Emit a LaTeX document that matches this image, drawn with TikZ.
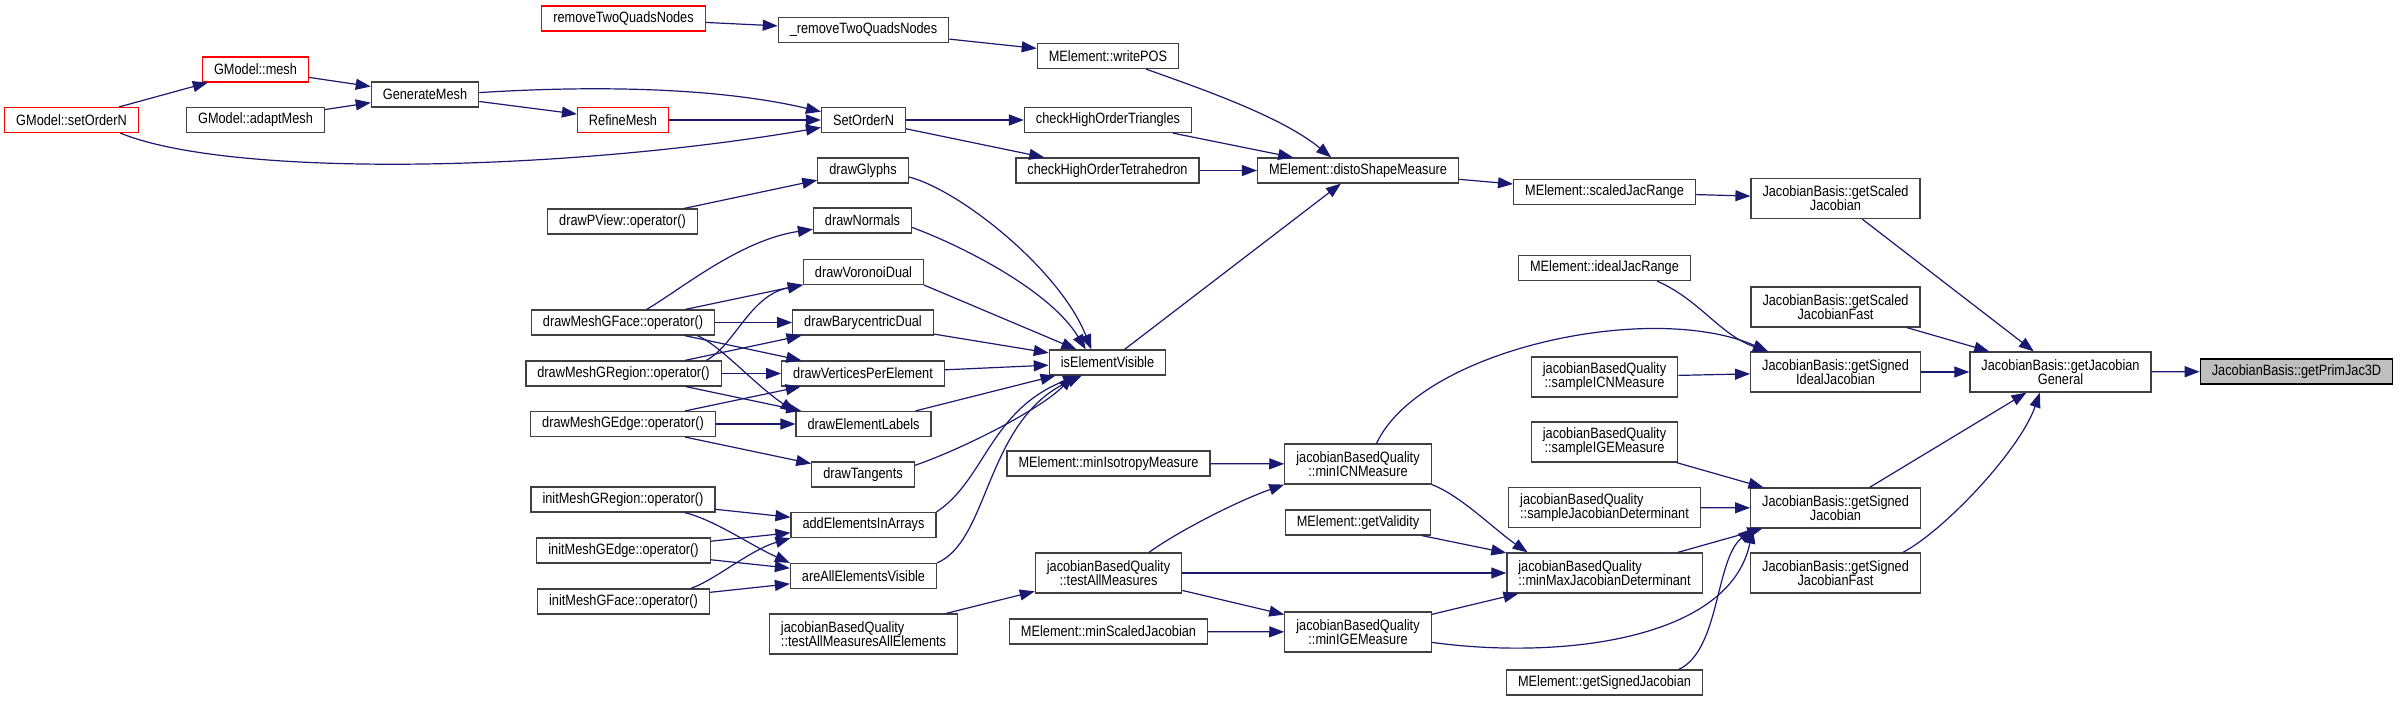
\documentclass[tikz,border=0pt]{standalone}
\usepackage{fontspec}
\setmainfont{Liberation Sans}[FakeStretch=0.85]
\usepackage{xcolor}
\usetikzlibrary{arrows.meta, positioning}

\definecolor{midnight}{HTML}{191970}
\definecolor{grey25}{HTML}{404040}
\definecolor{grey75}{HTML}{BFBFBF}

\begin{document}
\begin{tikzpicture}[
    x=0.5pt, y=-0.5pt,
    font=\fontsize{7.5pt}{7pt}\selectfont,
    fn/.style={rectangle, draw=#1, fill=white, line width=0.6pt,
               minimum height=12.5pt, inner xsep=5.75pt, inner ysep=1pt,
               align=center},
    fn/.default=grey25,
    two/.style={minimum height=20pt},
    twol/.style={minimum height=20pt, align=left},
    arr/.style={-{Triangle[length=7.5pt, width=5.5pt]}, midnight, line width=0.6pt}
  ]

  \useasboundingbox (0,0) rectangle (2400,701);

  % callers, left part
  \node[fn=red] (gsetn)  at (71.5,120)  {GModel::setOrderN};
  \node[fn=red] (gmesh)  at (255.5,69.5) {GModel::mesh};
  \node[fn]     (gadapt) at (255.5,120) {GModel::adaptMesh};
  \node[fn]     (genm)   at (425,94.5)  {GenerateMesh};

  \node[fn=red] (rtq)      at (623.5,18.5) {removeTwoQuadsNodes};
  \node[fn=red] (refm)     at (623,120)    {RefineMesh};
  \node[fn]     (pview)    at (622.5,221.5) {drawPView::operator()};
  \node[fn]     (gface)    at (623,322.5)  {drawMeshGFace::operator()};
  \node[fn]     (gregion)  at (623.5,373.5) {drawMeshGRegion::operator()};
  \node[fn]     (gedge)    at (623,424)    {drawMeshGEdge::operator()};
  \node[fn]     (initreg)  at (623,499.5)  {initMeshGRegion::operator()};
  \node[fn]     (initedge) at (623.5,550.5) {initMeshGEdge::operator()};
  \node[fn]     (initface) at (623.5,601.5) {initMeshGFace::operator()};

  \node[fn] (rtqi)     at (863.5,30)    {\_removeTwoQuadsNodes};
  \node[fn] (setn)     at (863.5,120)   {SetOrderN};
  \node[fn] (glyphs)   at (863,170.5)   {drawGlyphs};
  \node[fn] (normals)  at (862.5,220.5) {drawNormals};
  \node[fn] (voronoi)  at (863.5,272)   {drawVoronoiDual};
  \node[fn] (bary)     at (863,322.5)   {drawBarycentricDual};
  \node[fn] (verts)    at (863,373.5)   {drawVerticesPerElement};
  \node[fn] (labels)   at (863.5,424)   {drawElementLabels};
  \node[fn] (tangents) at (863,474.5)   {drawTangents};
  \node[fn] (addel)    at (863.5,525)   {addElementsInArrays};
  \node[fn] (allvis)   at (863.5,576)   {areAllElementsVisible};
  \node[fn, twol] (tamae) at (863.5,634) {jacobianBasedQuality\\::testAllMeasuresAllElements};

  \node[fn] (wpos)   at (1108,56)    {MElement::writePOS};
  \node[fn] (chtri)  at (1108,120)   {checkHighOrderTriangles};
  \node[fn] (chtet)  at (1107.5,170.5) {checkHighOrderTetrahedron};
  \node[fn] (isev)   at (1107.5,362.5) {isElementVisible};
  \node[fn] (miniso) at (1108.5,463.5) {MElement::minIsotropyMeasure};
  \node[fn, two] (tam) at (1108.5,573) {jacobianBasedQuality\\::testAllMeasures};
  \node[fn] (minsj)  at (1108.5,631.5) {MElement::minScaledJacobian};

  \node[fn] (disto)  at (1358,170.5) {MElement::distoShapeMeasure};
  \node[fn, two] (minicn) at (1358,464) {jacobianBasedQuality\\::minICNMeasure};
  \node[fn] (getval) at (1358,522.5) {MElement::getValidity};
  \node[fn, two] (minige) at (1358,632) {jacobianBasedQuality\\::minIGEMeasure};

  \node[fn] (scjr)    at (1604.5,192) {MElement::scaledJacRange};
  \node[fn] (idealjr) at (1604.5,268) {MElement::idealJacRange};
  \node[fn, two]  (sicn)   at (1604.5,377)   {jacobianBasedQuality\\::sampleICNMeasure};
  \node[fn, two]  (sige)   at (1604.5,442)   {jacobianBasedQuality\\::sampleIGEMeasure};
  \node[fn, twol] (sjd)    at (1604.5,507.5) {jacobianBasedQuality\\::sampleJacobianDeterminant};
  \node[fn, twol] (minmax) at (1604.5,573)   {jacobianBasedQuality\\::minMaxJacobianDeterminant};
  \node[fn] (mesj) at (1604.5,682.5) {MElement::getSignedJacobian};

  \node[fn, two] (gsj)     at (1835.5,198.5) {JacobianBasis::getScaled\\Jacobian};
  \node[fn, two] (gsjf)    at (1835.5,307)   {JacobianBasis::getScaled\\JacobianFast};
  \node[fn, two] (gsij)    at (1835.5,372)   {JacobianBasis::getSigned\\IdealJacobian};
  \node[fn, two] (gsjac)   at (1835.5,508)   {JacobianBasis::getSigned\\Jacobian};
  \node[fn, two] (gsjfast) at (1835.5,573)   {JacobianBasis::getSigned\\JacobianFast};

  \node[fn, two] (gjg) at (2060.5,372) {JacobianBasis::getJacobian\\General};
  \node[fn=black, fill=grey75] (prim) at (2296.5,371.5) {JacobianBasis::getPrimJac3D};

  % straight calls
  \foreach \a/\b in {rtq/rtqi, rtqi/wpos, gsetn/gmesh, gmesh/genm, gadapt/genm,
                     genm/refm, refm/setn, setn/chtri, setn/chtet, chtri/disto,
                     chtet/disto, disto/scjr, scjr/gsj, gsj/gjg, gsjf/gjg,
                     gsij/gjg, gsjac/gjg, gjg/prim, isev/disto, pview/glyphs,
                     bary/isev, verts/isev, labels/isev,
                     gface/voronoi, gface/bary, gface/verts, gregion/bary,
                     gregion/verts, gregion/labels, gedge/verts, gedge/labels,
                     gedge/tangents, initreg/addel, initedge/addel,
                     initedge/allvis, initface/allvis, tamae/tam, tam/minmax,
                     tam/minige, minsj/minige, miniso/minicn, getval/minmax,
                     minige/minmax, minmax/gsjac, sjd/gsjac, sige/gsjac,
                     sicn/gsij}
    \draw[arr] (\a) -- (\b);

  \draw[arr] (voronoi.south east) -- (isev);

  % curved calls
  \draw[arr] (wpos.-19) .. controls (1190,85) and (1280,115) .. (disto.154);
  \draw[arr] (gsetn.-15) .. controls (230,178) and (560,172) .. (setn.190.7);
  \draw[arr] (genm.2.6) .. controls (600,85) and (720,88) .. (setn.169.3);
  \draw[arr] (gsjfast.17) .. controls (1945,530) and (2020,450) .. (gjg.225.7);
  \draw[arr] (glyphs.-8) .. controls (960,190) and (1060,270) .. (isev.141);
  \draw[arr] (normals.-8.6) .. controls (960,245) and (1050,290) .. (isev.149.8);
  \draw[arr] (tangents.10.4) .. controls (960,450) and (1040,410) .. (isev.201);
  \draw[arr] (addel.north east) .. controls (985,480) and (990,410) .. (isev.204.4);
  \draw[arr] (allvis.north east) .. controls (990,540) and (985,420) .. (isev.207);
  \draw[arr] (gface.29.6) .. controls (680,290) and (740,240) .. (normals.190.9);
  \draw[arr] (gface.-10.7) .. controls (720,345) and (755,385) .. (labels.170.7);
  \draw[arr] (gregion.9.9) .. controls (735,345) and (750,295) .. (voronoi.south west);
  \draw[arr] (initreg.-12.2) .. controls (715,520) and (750,545) .. (allvis.north west);
  \draw[arr] (initface.11.9) .. controls (715,580) and (750,550) .. (addel.south west);
  \draw[arr] (tam.27.1) .. controls (1180,530) and (1240,500) .. (minicn.south west);
  \draw[arr] (minicn.south east) .. controls (1460,495) and (1495,530) .. (minmax.165.9);
  \draw[arr] (minige.-8.6) .. controls (1560,660) and (1730,640) .. (gsjac.194.8);
  \draw[arr] (mesj.10.8) .. controls (1720,650) and (1715,560) .. (gsjac.194.8);
  \draw[arr] (minicn.48) .. controls (1420,350) and (1650,300) .. (gsij.163.5);
  \draw[arr] (idealjr.-14.2) .. controls (1700,300) and (1720,335) .. (gsij.163.5);

\end{tikzpicture}
\end{document}
